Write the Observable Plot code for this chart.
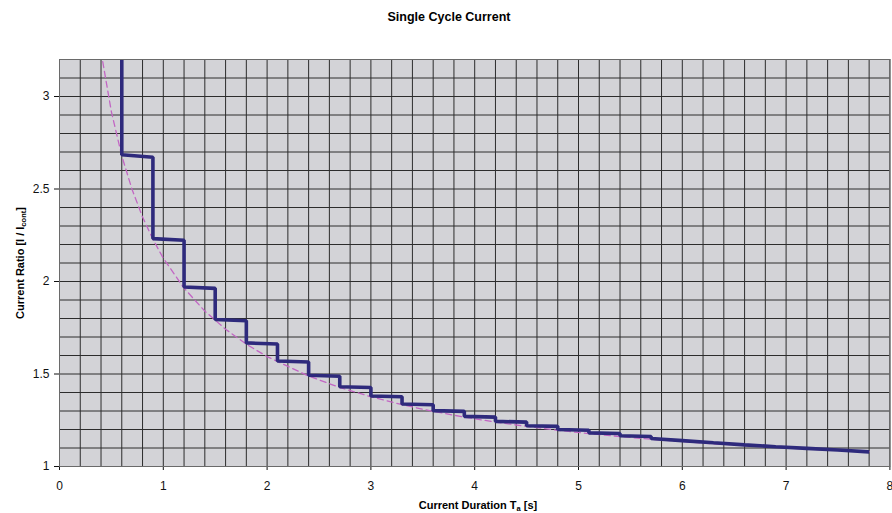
<!DOCTYPE html>
<html>
<head>
<meta charset="utf-8">
<script src="https://cdn.jsdelivr.net/npm/d3@7"></script>
<script src="https://cdn.jsdelivr.net/npm/@observablehq/plot@0.6"></script>
<style>
  html, body { margin: 0; padding: 0; background: #fff; }
  #chart { width: 892px; height: 513px; }
</style>
</head>
<body>
<div id="chart"></div>
<script>
// ---- data ----
const title = "Single Cycle Current";
const xTicks = [0, 1, 2, 3, 4, 5, 6, 7, 8];
const yTicks = [1, 1.5, 2, 2.5, 3];

// dashed reference curve
const dashT = [0.4, 0.5, 0.6, 0.7, 0.8, 0.9, 1.0, 1.2, 1.4, 1.6, 1.8, 2.0, 2.4, 2.7, 3.0, 3.3, 3.6, 3.9, 4.2, 4.5, 4.8, 5.1, 5.4, 5.7, 6.0, 6.3, 6.6, 6.9, 7.2, 7.5, 7.8];
const dashR = [3.242, 2.917, 2.679, 2.496, 2.349, 2.228, 2.126, 1.964, 1.840, 1.742, 1.661, 1.594, 1.489, 1.427, 1.377, 1.334, 1.298, 1.267, 1.240, 1.217, 1.196, 1.178, 1.162, 1.147, 1.135, 1.123, 1.113, 1.103, 1.095, 1.087, 1.080];

// stepped single-cycle curve
const stepT = [0.6, 0.6, 0.9, 0.9, 1.2, 1.2, 1.5, 1.5, 1.8, 1.8, 2.1, 2.1, 2.4, 2.4, 2.7, 2.7, 3.0, 3.0, 3.3, 3.3, 3.6, 3.6, 3.9, 3.9, 4.2, 4.2, 4.5, 4.5, 4.8, 4.8, 5.1, 5.1, 5.4, 5.4, 5.7, 5.7, 6.0, 6.3, 6.6, 6.9, 7.2, 7.5, 7.8];
const stepR = [3.2, 2.685, 2.672, 2.232, 2.223, 1.970, 1.963, 1.795, 1.788, 1.668, 1.662, 1.570, 1.565, 1.493, 1.488, 1.431, 1.427, 1.381, 1.377, 1.338, 1.334, 1.302, 1.298, 1.271, 1.267, 1.244, 1.240, 1.220, 1.217, 1.200, 1.196, 1.182, 1.178, 1.166, 1.162, 1.151, 1.140, 1.128, 1.117, 1.107, 1.098, 1.089, 1.079];

const dashData = dashT.map((t, i) => ({t, r: dashR[i]}));
const stepData = stepT.map((t, i) => ({t, r: stepR[i]}));
const xGrid = d3.range(0, 8.0001, 0.2);
const yGrid = d3.range(1, 3.2001, 0.1);

const W = 892, H = 513;
const svg = Plot.plot({
  width: W,
  height: H,
  marginLeft: 59,
  marginRight: 2.6,
  marginTop: 59,
  marginBottom: 47,
  style: { fontFamily: "'Liberation Sans', Arial, sans-serif", fontSize: "12px", color: "#111", background: "#fff" },
  x: { domain: [0, 8], ticks: xTicks, tickSize: 4, tickPadding: 11, tickFormat: d => String(d), label: null },
  y: { domain: [1, 3.2], ticks: yTicks, tickSize: 5, tickPadding: 5, tickFormat: d => String(d), label: null },
  marks: [
    Plot.frame({ fill: "#d3d3d7", stroke: "none" }),
    Plot.ruleX(xGrid, { x: d => d, stroke: "#2c2c2c", strokeWidth: 1 }),
    Plot.ruleY(yGrid, { y: d => d, stroke: "#2c2c2c", strokeWidth: 1 }),
    Plot.line(dashData, { x: "t", y: "r", stroke: "#c266c4", strokeWidth: 1.3, strokeDasharray: "6,4", clip: true }),
    Plot.line(stepData, { x: "t", y: "r", stroke: "#2e2a7c", strokeWidth: 3.6, strokeLinejoin: "miter", strokeLinecap: "butt", clip: true }),
    Plot.frame({ stroke: "#6a6a6a", fill: "none" })
  ]
});
document.getElementById("chart").appendChild(svg);

const s = d3.select(svg);
s.append("text")
  .attr("x", 449).attr("y", 21)
  .attr("text-anchor", "middle")
  .attr("font-weight", "bold")
  .attr("font-size", "12.5px")
  .attr("fill", "#000")
  .text(title);

// x-axis label with subscript
const xl = s.append("text")
  .attr("x", 478).attr("y", 509)
  .attr("text-anchor", "middle")
  .attr("font-weight", "bold")
  .attr("font-size", "11px")
  .attr("fill", "#000");
xl.append("tspan").text("Current Duration T");
xl.append("tspan").attr("font-size", "7.5px").attr("dy", "2").text("a");
xl.append("tspan").attr("dy", "-2").text(" [s]");

// y-axis label with subscript
const yl = s.append("text")
  .attr("transform", "translate(24,263) rotate(-90)")
  .attr("text-anchor", "middle")
  .attr("font-weight", "bold")
  .attr("font-size", "11px")
  .attr("fill", "#000");
yl.append("tspan").text("Current Ratio [I / I");
yl.append("tspan").attr("font-size", "7.5px").attr("dy", "2").text("cont");
yl.append("tspan").attr("dy", "-2").text("]");
</script>
</body>
</html>
